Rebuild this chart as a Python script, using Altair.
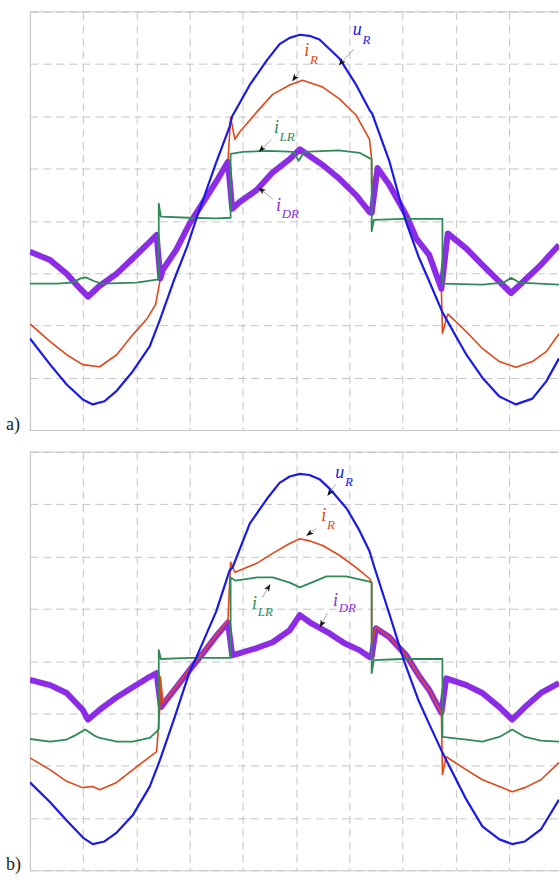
import altair as alt
import pandas as pd
import numpy as np

# ---------------- panel a) ----------------
a_uR_x = [0.0, 0.38, 0.69, 1.0, 1.18, 1.4, 1.63, 1.93, 2.25, 2.44, 2.7, 2.95, 3.13, 3.5, 3.75, 3.8, 4.13, 4.45, 4.69, 4.88,
          5.07, 5.25, 5.44, 5.82, 6.13, 6.38, 6.43, 6.75, 7.06, 7.3, 7.5, 7.75, 8.2, 8.5, 8.82, 9.13, 9.44, 9.7, 9.94]
a_uR_y = [-2.25, -2.75, -3.13, -3.42, -3.51, -3.45, -3.25, -2.88, -2.4, -1.9, -1.15, -0.5, 0.05, 1.12, 1.8, 2.0, 2.6, 3.07, 3.38, 3.5,
          3.56, 3.54, 3.47, 3.1, 2.6, 2.12, 2.05, 1.15, 0.0, -0.68, -1.15, -1.75, -2.56, -3.0, -3.36, -3.51, -3.4, -3.07, -2.63]

a_iR_x = [0.0, 0.38, 0.69, 0.99, 1.31, 1.63, 1.93, 2.2, 2.36, 2.38, 2.44, 2.5, 2.75, 3.0, 3.25, 3.5, 3.72, 3.77, 3.85, 3.94,
          4.26, 4.56, 4.88, 5.12, 5.5, 5.82, 6.13, 6.38, 6.42, 6.42, 6.53, 6.75, 7.07, 7.26, 7.5, 7.73, 7.75, 7.85,
          8.2, 8.5, 8.82, 9.13, 9.44, 9.7, 9.94]
a_iR_y = [-1.97, -2.31, -2.56, -2.75, -2.79, -2.56, -2.18, -1.87, -1.6, -1.49, -1.16, -0.93, -0.55, -0.05, 0.35, 0.75, 1.13, 1.98, 1.56, 1.7,
          2.08, 2.42, 2.6, 2.69, 2.56, 2.33, 2.02, 1.56, 1.18, 0.69, 1.0, 0.69, 0.11, -0.34, -0.65, -1.3, -2.15, -1.78,
          -2.12, -2.44, -2.69, -2.8, -2.69, -2.5, -2.16]

a_iLR_x = [0.0, 0.5, 0.8, 0.95, 1.05, 1.2, 1.35, 2.0, 2.35, 2.42, 2.42, 2.46, 3.0, 3.5, 3.77, 3.77, 4.0, 4.5, 4.95, 5.05,
           5.15, 5.8, 6.2, 6.38, 6.42, 6.42, 6.46, 7.0, 7.75, 7.75, 8.5, 8.9, 9.04, 9.2, 9.94]
a_iLR_y = [-1.2, -1.2, -1.18, -1.1, -1.08, -1.15, -1.2, -1.18, -1.13, -1.12, 0.33, 0.08, 0.06, 0.05, 0.06, 1.28, 1.32, 1.34, 1.32, 1.15,
           1.32, 1.35, 1.3, 1.2, 1.18, -0.2, 0.02, 0.04, 0.04, -1.2, -1.22, -1.18, -1.09, -1.18, -1.22]

a_iDR_x = [0.0, 0.38, 0.69, 0.9, 1.09, 1.3, 1.63, 1.93, 2.25, 2.38, 2.45, 2.5, 2.75, 3.0, 3.25, 3.5, 3.72, 3.8, 3.94, 4.26,
           4.56, 4.88, 5.07, 5.5, 5.82, 6.13, 6.38, 6.42, 6.53, 6.75, 7.07, 7.26, 7.5, 7.73, 7.85, 8.2, 8.5, 8.82, 9.04,
           9.3, 9.6, 9.94]
a_iDR_y = [-0.59, -0.75, -1.01, -1.25, -1.45, -1.25, -1.01, -0.72, -0.4, -0.27, -1.1, -0.93, -0.55, -0.05, 0.35, 0.75, 1.13, 0.23, 0.36, 0.59,
           0.93, 1.18, 1.37, 1.07, 0.8, 0.49, 0.17, 0.15, 1.01, 0.69, 0.11, -0.34, -0.65, -1.3, -0.24, -0.53, -0.84, -1.16, -1.38,
           -1.13, -0.84, -0.46]

# ---------------- panel b) ----------------
b_uR_x = [0.0, 0.38, 0.69, 1.0, 1.18, 1.4, 1.63, 1.93, 2.25, 2.44, 2.72, 3.0, 3.13, 3.5, 3.75, 3.81, 4.13, 4.45, 4.69, 4.88,
          5.07, 5.25, 5.44, 5.63, 5.95, 6.19, 6.38, 6.47, 6.75, 7.03, 7.3, 7.5, 7.75, 8.2, 8.5, 8.82, 9.06, 9.3, 9.6, 9.94]
b_uR_y = [-2.32, -2.7, -3.05, -3.38, -3.5, -3.45, -3.28, -2.95, -2.4, -1.9, -1.07, -0.2, 0.08, 0.95, 1.73, 1.8, 2.63, 3.1, 3.41, 3.53,
          3.58, 3.56, 3.48, 3.3, 2.92, 2.5, 2.1, 1.8, 0.91, 0.0, -0.75, -1.2, -1.75, -2.65, -3.16, -3.41, -3.5, -3.45, -3.22, -2.65]

b_iR_x = [0.0, 0.38, 0.69, 0.99, 1.18, 1.31, 1.63, 1.93, 2.25, 2.38, 2.44, 2.45, 2.5, 2.75, 3.0, 3.25, 3.5, 3.72, 3.77, 3.85,
          4.26, 4.56, 4.88, 5.07, 5.25, 5.5, 5.82, 6.13, 6.38, 6.42, 6.42, 6.5, 6.75, 7.07, 7.32, 7.5, 7.73, 7.75, 7.82,
          8.2, 8.5, 8.82, 9.06, 9.3, 9.6, 9.94]
b_iR_y = [-1.85, -2.08, -2.3, -2.42, -2.4, -2.46, -2.32, -2.08, -1.83, -1.73, -0.9, -0.3, -0.8, -0.48, -0.15, 0.17, 0.5, 0.78, 1.89, 1.7,
          1.87, 2.06, 2.25, 2.34, 2.3, 2.21, 2.02, 1.79, 1.58, 1.5, 0.34, 0.65, 0.46, 0.11, -0.3, -0.55, -0.99, -2.17, -1.83,
          -2.08, -2.27, -2.4, -2.5, -2.42, -2.27, -1.94]

b_iLR_x = [0.0, 0.38, 0.69, 0.85, 1.04, 1.2, 1.31, 1.63, 1.93, 2.25, 2.38, 2.42, 2.42, 2.46, 3.0, 3.77, 3.77, 3.86, 4.26, 4.56,
           4.88, 5.07, 5.29, 5.57, 5.94, 6.21, 6.38, 6.42, 6.42, 6.46, 7.0, 7.75, 7.75, 8.2, 8.5, 8.82, 9.06, 9.3, 9.6, 9.94]
b_iLR_y = [-1.49, -1.54, -1.5, -1.42, -1.31, -1.42, -1.47, -1.54, -1.54, -1.47, -1.35, -1.3, 0.21, 0.04, 0.06, 0.06, 1.6, 1.54, 1.6, 1.6,
           1.5, 1.41, 1.5, 1.62, 1.62, 1.56, 1.52, 1.5, -0.23, 0.02, 0.04, 0.04, -1.45, -1.5, -1.54, -1.45, -1.31, -1.45, -1.52, -1.54]

b_iDR_x = [0.0, 0.38, 0.69, 0.99, 1.09, 1.31, 1.63, 1.93, 2.25, 2.38, 2.46, 2.75, 3.0, 3.25, 3.5, 3.72, 3.8, 4.26, 4.56, 4.88,
           5.07, 5.29, 5.63, 5.91, 6.19, 6.38, 6.42, 6.5, 6.75, 7.07, 7.32, 7.5, 7.73, 7.82, 8.2, 8.5, 8.82, 9.06, 9.3,
           9.6, 9.94]
b_iDR_y = [-0.36, -0.46, -0.61, -0.93, -1.12, -0.93, -0.69, -0.5, -0.3, -0.23, -0.88, -0.5, -0.17, 0.15, 0.48, 0.74, 0.11, 0.25, 0.36, 0.59,
           0.88, 0.72, 0.53, 0.34, 0.21, 0.08, 0.08, 0.63, 0.46, 0.11, -0.3, -0.55, -0.99, -0.33, -0.46, -0.61, -0.88, -1.12, -0.88,
           -0.61, -0.42]

# ---------------- annotations ----------------
lab_main = ["u", "i", "i", "i"]
lab_sub = ["R", "R", "LR", "DR"]
lab_color = ["#1a1ae6", "#e2471a", "#2e8b57", "#8c2ce6"]

a_main_x = [6.15, 5.2, 4.63, 4.67]
a_main_y = [3.65, 3.24, 1.77, 0.29]
a_sub_x = [6.25, 5.26, 4.69, 4.73]
a_sub_y = [3.46, 3.07, 1.6, 0.13]
a_arr_x0 = [6.08, 5.07, 4.54, 4.56]
a_arr_y0 = [3.28, 2.87, 1.56, 0.42]
a_arr_x1 = [5.85, 4.97, 4.35, 4.35]
a_arr_y1 = [3.03, 2.73, 1.37, 0.59]

b_main_x = [5.82, 5.52, 4.22, 5.74]
b_main_y = [3.59, 2.77, 1.1, 1.14]
b_sub_x = [5.92, 5.58, 4.28, 5.8]
b_sub_y = [3.42, 2.6, 0.93, 1.01]
b_arr_x0 = [5.74, 5.38, 4.37, 5.59]
b_arr_y0 = [3.38, 2.54, 1.22, 0.92]
b_arr_x1 = [5.63, 5.25, 4.48, 5.48]
b_arr_y1 = [3.22, 2.44, 1.41, 0.71]

panel_tags = ["a)", "b)"]

# ---------------- styling ----------------
W, H = 530, 419
XMAX = 9.94
PX_X = W / XMAX
PX_Y = H / 8.0
GRID = "#c4c4c4"
FRAME = "#c8c8c8"
SERIF = "'Liberation Serif', 'Times New Roman', 'DejaVu Serif', serif"
COLORS = {"uR": "#1a1ae6", "iR": "#e2471a", "iLR": "#2e8b57", "iDR": "#8c2ce6"}
WIDTHS = {"uR": 2.2, "iR": 1.6, "iLR": 1.8, "iDR": 6.0}
ARROW = "M0,-1L0.7,0.9L0,0.4L-0.7,0.9Z"

xscale = alt.Scale(domain=[0, XMAX], nice=False, zero=False)
yscale = alt.Scale(domain=[-4, 4], nice=False, zero=False)
xaxis = alt.Axis(values=list(range(10)), grid=True, gridDash=[8, 5], gridColor=GRID, gridWidth=1,
                 labels=False, ticks=False, domain=True, domainColor=FRAME, domainWidth=1.2, title=None)
yaxis = alt.Axis(values=list(range(-4, 5)), grid=True, gridDash=[8, 5], gridColor=GRID, gridWidth=1,
                 labels=False, ticks=False, domain=True, domainColor=FRAME, domainWidth=1.2, title=None)


def X(field):
    return alt.X(field, type="quantitative", scale=xscale, axis=xaxis)


def Y(field):
    return alt.Y(field, type="quantitative", scale=yscale, axis=yaxis)


def line_layer(xs, ys, key):
    df = pd.DataFrame({"x": xs, "y": ys, "i": range(len(xs))})
    return alt.Chart(df).mark_line(color=COLORS[key], strokeWidth=WIDTHS[key], clip=True,
                                   strokeJoin="round").encode(
        x=X("x"), y=Y("y"), order=alt.Order("i:Q"),
    )


def annotations(mx, my, sx, sy, x0, y0, x1, y1):
    ang = [(np.degrees(np.arctan2((b - a) * PX_X, (d - c) * PX_Y)) + 360) % 360
           for a, b, c, d in zip(x0, x1, y0, y1)]
    df = pd.DataFrame({"mx": mx, "my": my, "sx": sx, "sy": sy, "x0": x0, "y0": y0, "x1": x1, "y1": y1,
                       "main": lab_main, "sub": lab_sub, "c": lab_color, "ang": ang})
    base = alt.Chart(df)
    rules = base.mark_rule(color="#9a9a9a", strokeWidth=0.9).encode(
        x=X("x0"), y=Y("y0"), x2="x1:Q", y2="y1:Q")
    heads = base.mark_point(shape=ARROW, filled=True, color="#111111", size=64, opacity=1).encode(
        x=X("x1"), y=Y("y1"), angle=alt.Angle("ang:Q", scale=None))
    mains = base.mark_text(font=SERIF, fontStyle="italic", fontSize=18,
                           align="center", baseline="middle").encode(
        x=X("mx"), y=Y("my"), text="main:N", color=alt.Color("c:N", scale=None))
    subs = base.mark_text(font=SERIF, fontStyle="italic", fontSize=13,
                          align="left", baseline="middle").encode(
        x=X("sx"), y=Y("sy"), text="sub:N", color=alt.Color("c:N", scale=None))
    return [rules, heads, mains, subs]


def frame_layers(tag):
    d = pd.DataFrame({"t": [tag]})
    top = alt.Chart(d).mark_rule(color=FRAME, strokeWidth=1.2).encode(
        x=alt.value(0), x2=alt.value(W), y=alt.value(0))
    txt = alt.Chart(d).mark_text(font=SERIF, fontSize=18, align="left",
                                 baseline="middle", color="#222222").encode(
        x=alt.value(-24), y=alt.value(H - 5), text="t:N")
    return [top, txt]


panel_a = alt.layer(
    line_layer(a_iR_x, a_iR_y, "iR"),
    line_layer(a_iDR_x, a_iDR_y, "iDR"),
    line_layer(a_iLR_x, a_iLR_y, "iLR"),
    line_layer(a_uR_x, a_uR_y, "uR"),
    *annotations(a_main_x, a_main_y, a_sub_x, a_sub_y, a_arr_x0, a_arr_y0, a_arr_x1, a_arr_y1),
    *frame_layers(panel_tags[0]),
).properties(width=W, height=H)

panel_b = alt.layer(
    line_layer(b_iDR_x, b_iDR_y, "iDR"),
    line_layer(b_iR_x, b_iR_y, "iR"),
    line_layer(b_iLR_x, b_iLR_y, "iLR"),
    line_layer(b_uR_x, b_uR_y, "uR"),
    *annotations(b_main_x, b_main_y, b_sub_x, b_sub_y, b_arr_x0, b_arr_y0, b_arr_x1, b_arr_y1),
    *frame_layers(panel_tags[1]),
).properties(width=W, height=H)

chart = alt.vconcat(panel_a, panel_b, spacing=22, bounds="flush").properties(
    padding={"left": 6, "top": 10, "right": 0, "bottom": 4},
    background="white",
).configure_view(stroke=None)

chart.save("out.html", embed_options={"renderer": "svg", "actions": False})
